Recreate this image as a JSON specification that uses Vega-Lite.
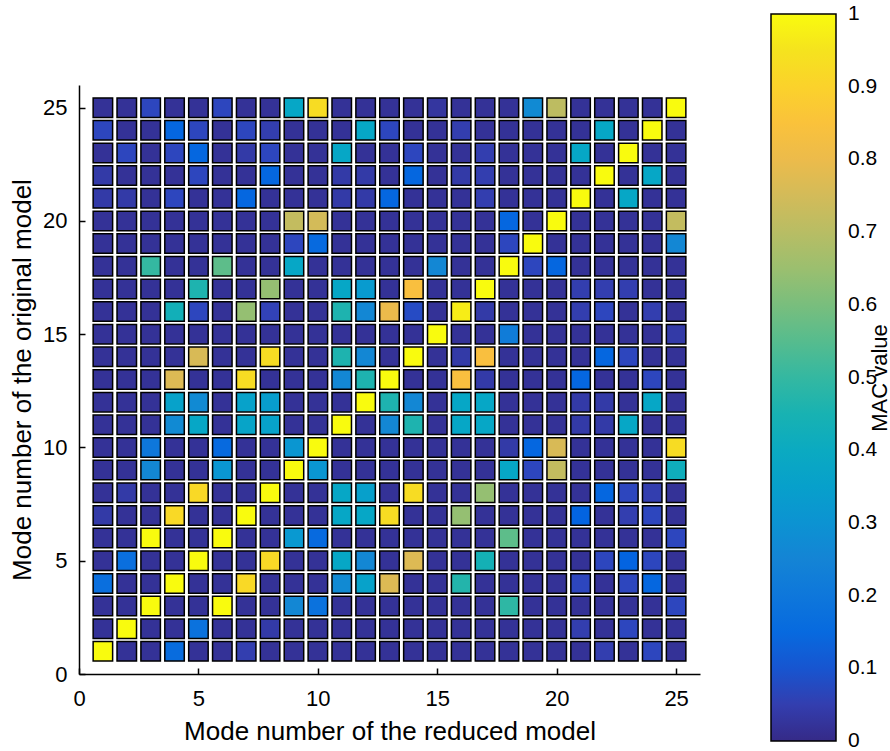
{
 "$schema": "https://vega.github.io/schema/vega-lite/v6.json",
 "width": 621, "height": 589,
 "autosize": {"type": "none"},
 "padding": {"left": 79, "top": 85, "right": 190, "bottom": 77},
 "background": "white",
 "config": {"view": {"stroke": null}, "font": "Liberation Sans"},
 "datasets": {"mac": [
{"x":1,"y":25,"v":0.02},{"x":2,"y":25,"v":0.02},{"x":3,"y":25,"v":0.07},{"x":4,"y":25,"v":0.02},{"x":5,"y":25,"v":0.02},{"x":6,"y":25,"v":0.07},{"x":7,"y":25,"v":0.02},{"x":8,"y":25,"v":0.02},{"x":9,"y":25,"v":0.38},{"x":10,"y":25,"v":0.93},{"x":11,"y":25,"v":0.02},{"x":12,"y":25,"v":0.02},{"x":13,"y":25,"v":0.02},{"x":14,"y":25,"v":0.02},{"x":15,"y":25,"v":0.03},{"x":16,"y":25,"v":0.02},{"x":17,"y":25,"v":0.02},{"x":18,"y":25,"v":0.02},{"x":19,"y":25,"v":0.27},{"x":20,"y":25,"v":0.71},{"x":21,"y":25,"v":0.02},{"x":22,"y":25,"v":0.02},{"x":23,"y":25,"v":0.02},{"x":24,"y":25,"v":0.02},{"x":25,"y":25,"v":1},
{"x":1,"y":24,"v":0.07},{"x":2,"y":24,"v":0.02},{"x":3,"y":24,"v":0.02},{"x":4,"y":24,"v":0.14},{"x":5,"y":24,"v":0.07},{"x":6,"y":24,"v":0.02},{"x":7,"y":24,"v":0.07},{"x":8,"y":24,"v":0.05},{"x":9,"y":24,"v":0.02},{"x":10,"y":24,"v":0.02},{"x":11,"y":24,"v":0.02},{"x":12,"y":24,"v":0.38},{"x":13,"y":24,"v":0.07},{"x":14,"y":24,"v":0.02},{"x":15,"y":24,"v":0.02},{"x":16,"y":24,"v":0.05},{"x":17,"y":24,"v":0.02},{"x":18,"y":24,"v":0.02},{"x":19,"y":24,"v":0.02},{"x":20,"y":24,"v":0.02},{"x":21,"y":24,"v":0.02},{"x":22,"y":24,"v":0.38},{"x":23,"y":24,"v":0.02},{"x":24,"y":24,"v":1},{"x":25,"y":24,"v":0.02},
{"x":1,"y":23,"v":0.02},{"x":2,"y":23,"v":0.07},{"x":3,"y":23,"v":0.02},{"x":4,"y":23,"v":0.07},{"x":5,"y":23,"v":0.14},{"x":6,"y":23,"v":0.02},{"x":7,"y":23,"v":0.04},{"x":8,"y":23,"v":0.07},{"x":9,"y":23,"v":0.02},{"x":10,"y":23,"v":0.02},{"x":11,"y":23,"v":0.38},{"x":12,"y":23,"v":0.02},{"x":13,"y":23,"v":0.02},{"x":14,"y":23,"v":0.07},{"x":15,"y":23,"v":0.02},{"x":16,"y":23,"v":0.02},{"x":17,"y":23,"v":0.05},{"x":18,"y":23,"v":0.02},{"x":19,"y":23,"v":0.02},{"x":20,"y":23,"v":0.02},{"x":21,"y":23,"v":0.38},{"x":22,"y":23,"v":0.02},{"x":23,"y":23,"v":1},{"x":24,"y":23,"v":0.02},{"x":25,"y":23,"v":0.02},
{"x":1,"y":22,"v":0.04},{"x":2,"y":22,"v":0.02},{"x":3,"y":22,"v":0.02},{"x":4,"y":22,"v":0.02},{"x":5,"y":22,"v":0.07},{"x":6,"y":22,"v":0.02},{"x":7,"y":22,"v":0.02},{"x":8,"y":22,"v":0.14},{"x":9,"y":22,"v":0.02},{"x":10,"y":22,"v":0.02},{"x":11,"y":22,"v":0.04},{"x":12,"y":22,"v":0.04},{"x":13,"y":22,"v":0.02},{"x":14,"y":22,"v":0.14},{"x":15,"y":22,"v":0.02},{"x":16,"y":22,"v":0.04},{"x":17,"y":22,"v":0.05},{"x":18,"y":22,"v":0.02},{"x":19,"y":22,"v":0.02},{"x":20,"y":22,"v":0.02},{"x":21,"y":22,"v":0.02},{"x":22,"y":22,"v":1},{"x":23,"y":22,"v":0.02},{"x":24,"y":22,"v":0.38},{"x":25,"y":22,"v":0.02},
{"x":1,"y":21,"v":0.04},{"x":2,"y":21,"v":0.04},{"x":3,"y":21,"v":0.02},{"x":4,"y":21,"v":0.07},{"x":5,"y":21,"v":0.02},{"x":6,"y":21,"v":0.02},{"x":7,"y":21,"v":0.14},{"x":8,"y":21,"v":0.02},{"x":9,"y":21,"v":0.02},{"x":10,"y":21,"v":0.02},{"x":11,"y":21,"v":0.04},{"x":12,"y":21,"v":0.04},{"x":13,"y":21,"v":0.14},{"x":14,"y":21,"v":0.02},{"x":15,"y":21,"v":0.02},{"x":16,"y":21,"v":0.02},{"x":17,"y":21,"v":0.05},{"x":18,"y":21,"v":0.02},{"x":19,"y":21,"v":0.02},{"x":20,"y":21,"v":0.02},{"x":21,"y":21,"v":1},{"x":22,"y":21,"v":0.02},{"x":23,"y":21,"v":0.38},{"x":24,"y":21,"v":0.02},{"x":25,"y":21,"v":0.02},
{"x":1,"y":20,"v":0.02},{"x":2,"y":20,"v":0.02},{"x":3,"y":20,"v":0.02},{"x":4,"y":20,"v":0.02},{"x":5,"y":20,"v":0.02},{"x":6,"y":20,"v":0.02},{"x":7,"y":20,"v":0.02},{"x":8,"y":20,"v":0.02},{"x":9,"y":20,"v":0.72},{"x":10,"y":20,"v":0.75},{"x":11,"y":20,"v":0.02},{"x":12,"y":20,"v":0.02},{"x":13,"y":20,"v":0.02},{"x":14,"y":20,"v":0.02},{"x":15,"y":20,"v":0.02},{"x":16,"y":20,"v":0.02},{"x":17,"y":20,"v":0.02},{"x":18,"y":20,"v":0.14},{"x":19,"y":20,"v":0.02},{"x":20,"y":20,"v":1},{"x":21,"y":20,"v":0.02},{"x":22,"y":20,"v":0.02},{"x":23,"y":20,"v":0.02},{"x":24,"y":20,"v":0.02},{"x":25,"y":20,"v":0.72},
{"x":1,"y":19,"v":0.02},{"x":2,"y":19,"v":0.02},{"x":3,"y":19,"v":0.02},{"x":4,"y":19,"v":0.02},{"x":5,"y":19,"v":0.02},{"x":6,"y":19,"v":0.02},{"x":7,"y":19,"v":0.02},{"x":8,"y":19,"v":0.02},{"x":9,"y":19,"v":0.07},{"x":10,"y":19,"v":0.15},{"x":11,"y":19,"v":0.02},{"x":12,"y":19,"v":0.02},{"x":13,"y":19,"v":0.02},{"x":14,"y":19,"v":0.02},{"x":15,"y":19,"v":0.02},{"x":16,"y":19,"v":0.02},{"x":17,"y":19,"v":0.02},{"x":18,"y":19,"v":0.07},{"x":19,"y":19,"v":1},{"x":20,"y":19,"v":0.02},{"x":21,"y":19,"v":0.02},{"x":22,"y":19,"v":0.02},{"x":23,"y":19,"v":0.02},{"x":24,"y":19,"v":0.02},{"x":25,"y":19,"v":0.26},
{"x":1,"y":18,"v":0.02},{"x":2,"y":18,"v":0.02},{"x":3,"y":18,"v":0.5},{"x":4,"y":18,"v":0.02},{"x":5,"y":18,"v":0.02},{"x":6,"y":18,"v":0.56},{"x":7,"y":18,"v":0.02},{"x":8,"y":18,"v":0.02},{"x":9,"y":18,"v":0.38},{"x":10,"y":18,"v":0.02},{"x":11,"y":18,"v":0.02},{"x":12,"y":18,"v":0.02},{"x":13,"y":18,"v":0.02},{"x":14,"y":18,"v":0.02},{"x":15,"y":18,"v":0.26},{"x":16,"y":18,"v":0.02},{"x":17,"y":18,"v":0.02},{"x":18,"y":18,"v":1},{"x":19,"y":18,"v":0.07},{"x":20,"y":18,"v":0.14},{"x":21,"y":18,"v":0.02},{"x":22,"y":18,"v":0.02},{"x":23,"y":18,"v":0.02},{"x":24,"y":18,"v":0.02},{"x":25,"y":18,"v":0.02},
{"x":1,"y":17,"v":0.02},{"x":2,"y":17,"v":0.02},{"x":3,"y":17,"v":0.02},{"x":4,"y":17,"v":0.02},{"x":5,"y":17,"v":0.46},{"x":6,"y":17,"v":0.02},{"x":7,"y":17,"v":0.02},{"x":8,"y":17,"v":0.64},{"x":9,"y":17,"v":0.02},{"x":10,"y":17,"v":0.02},{"x":11,"y":17,"v":0.38},{"x":12,"y":17,"v":0.33},{"x":13,"y":17,"v":0.02},{"x":14,"y":17,"v":0.84},{"x":15,"y":17,"v":0.02},{"x":16,"y":17,"v":0.02},{"x":17,"y":17,"v":1},{"x":18,"y":17,"v":0.02},{"x":19,"y":17,"v":0.02},{"x":20,"y":17,"v":0.02},{"x":21,"y":17,"v":0.05},{"x":22,"y":17,"v":0.05},{"x":23,"y":17,"v":0.05},{"x":24,"y":17,"v":0.02},{"x":25,"y":17,"v":0.02},
{"x":1,"y":16,"v":0.02},{"x":2,"y":16,"v":0.02},{"x":3,"y":16,"v":0.02},{"x":4,"y":16,"v":0.43},{"x":5,"y":16,"v":0.07},{"x":6,"y":16,"v":0.02},{"x":7,"y":16,"v":0.64},{"x":8,"y":16,"v":0.06},{"x":9,"y":16,"v":0.02},{"x":10,"y":16,"v":0.02},{"x":11,"y":16,"v":0.46},{"x":12,"y":16,"v":0.26},{"x":13,"y":16,"v":0.8},{"x":14,"y":16,"v":0.08},{"x":15,"y":16,"v":0.02},{"x":16,"y":16,"v":0.97},{"x":17,"y":16,"v":0.04},{"x":18,"y":16,"v":0.02},{"x":19,"y":16,"v":0.02},{"x":20,"y":16,"v":0.02},{"x":21,"y":16,"v":0.05},{"x":22,"y":16,"v":0.07},{"x":23,"y":16,"v":0.02},{"x":24,"y":16,"v":0.05},{"x":25,"y":16,"v":0.02},
{"x":1,"y":15,"v":0.02},{"x":2,"y":15,"v":0.02},{"x":3,"y":15,"v":0.02},{"x":4,"y":15,"v":0.02},{"x":5,"y":15,"v":0.02},{"x":6,"y":15,"v":0.02},{"x":7,"y":15,"v":0.02},{"x":8,"y":15,"v":0.02},{"x":9,"y":15,"v":0.02},{"x":10,"y":15,"v":0.02},{"x":11,"y":15,"v":0.02},{"x":12,"y":15,"v":0.02},{"x":13,"y":15,"v":0.02},{"x":14,"y":15,"v":0.02},{"x":15,"y":15,"v":1},{"x":16,"y":15,"v":0.02},{"x":17,"y":15,"v":0.02},{"x":18,"y":15,"v":0.22},{"x":19,"y":15,"v":0.02},{"x":20,"y":15,"v":0.02},{"x":21,"y":15,"v":0.02},{"x":22,"y":15,"v":0.02},{"x":23,"y":15,"v":0.02},{"x":24,"y":15,"v":0.02},{"x":25,"y":15,"v":0.04},
{"x":1,"y":14,"v":0.02},{"x":2,"y":14,"v":0.02},{"x":3,"y":14,"v":0.02},{"x":4,"y":14,"v":0.02},{"x":5,"y":14,"v":0.76},{"x":6,"y":14,"v":0.02},{"x":7,"y":14,"v":0.02},{"x":8,"y":14,"v":0.93},{"x":9,"y":14,"v":0.02},{"x":10,"y":14,"v":0.02},{"x":11,"y":14,"v":0.46},{"x":12,"y":14,"v":0.26},{"x":13,"y":14,"v":0.02},{"x":14,"y":14,"v":1},{"x":15,"y":14,"v":0.02},{"x":16,"y":14,"v":0.04},{"x":17,"y":14,"v":0.84},{"x":18,"y":14,"v":0.02},{"x":19,"y":14,"v":0.02},{"x":20,"y":14,"v":0.02},{"x":21,"y":14,"v":0.02},{"x":22,"y":14,"v":0.14},{"x":23,"y":14,"v":0.07},{"x":24,"y":14,"v":0.02},{"x":25,"y":14,"v":0.02},
{"x":1,"y":13,"v":0.02},{"x":2,"y":13,"v":0.02},{"x":3,"y":13,"v":0.02},{"x":4,"y":13,"v":0.77},{"x":5,"y":13,"v":0.02},{"x":6,"y":13,"v":0.02},{"x":7,"y":13,"v":0.93},{"x":8,"y":13,"v":0.02},{"x":9,"y":13,"v":0.02},{"x":10,"y":13,"v":0.02},{"x":11,"y":13,"v":0.26},{"x":12,"y":13,"v":0.46},{"x":13,"y":13,"v":1},{"x":14,"y":13,"v":0.02},{"x":15,"y":13,"v":0.02},{"x":16,"y":13,"v":0.84},{"x":17,"y":13,"v":0.04},{"x":18,"y":13,"v":0.02},{"x":19,"y":13,"v":0.02},{"x":20,"y":13,"v":0.02},{"x":21,"y":13,"v":0.14},{"x":22,"y":13,"v":0.02},{"x":23,"y":13,"v":0.02},{"x":24,"y":13,"v":0.07},{"x":25,"y":13,"v":0.02},
{"x":1,"y":12,"v":0.02},{"x":2,"y":12,"v":0.02},{"x":3,"y":12,"v":0.02},{"x":4,"y":12,"v":0.36},{"x":5,"y":12,"v":0.27},{"x":6,"y":12,"v":0.02},{"x":7,"y":12,"v":0.36},{"x":8,"y":12,"v":0.34},{"x":9,"y":12,"v":0.02},{"x":10,"y":12,"v":0.02},{"x":11,"y":12,"v":0.02},{"x":12,"y":12,"v":1},{"x":13,"y":12,"v":0.46},{"x":14,"y":12,"v":0.26},{"x":15,"y":12,"v":0.02},{"x":16,"y":12,"v":0.38},{"x":17,"y":12,"v":0.38},{"x":18,"y":12,"v":0.02},{"x":19,"y":12,"v":0.02},{"x":20,"y":12,"v":0.02},{"x":21,"y":12,"v":0.04},{"x":22,"y":12,"v":0.04},{"x":23,"y":12,"v":0.02},{"x":24,"y":12,"v":0.38},{"x":25,"y":12,"v":0.02},
{"x":1,"y":11,"v":0.02},{"x":2,"y":11,"v":0.02},{"x":3,"y":11,"v":0.02},{"x":4,"y":11,"v":0.27},{"x":5,"y":11,"v":0.38},{"x":6,"y":11,"v":0.02},{"x":7,"y":11,"v":0.37},{"x":8,"y":11,"v":0.36},{"x":9,"y":11,"v":0.02},{"x":10,"y":11,"v":0.02},{"x":11,"y":11,"v":1},{"x":12,"y":11,"v":0.02},{"x":13,"y":11,"v":0.26},{"x":14,"y":11,"v":0.46},{"x":15,"y":11,"v":0.02},{"x":16,"y":11,"v":0.38},{"x":17,"y":11,"v":0.38},{"x":18,"y":11,"v":0.02},{"x":19,"y":11,"v":0.02},{"x":20,"y":11,"v":0.02},{"x":21,"y":11,"v":0.04},{"x":22,"y":11,"v":0.04},{"x":23,"y":11,"v":0.38},{"x":24,"y":11,"v":0.02},{"x":25,"y":11,"v":0.02},
{"x":1,"y":10,"v":0.02},{"x":2,"y":10,"v":0.02},{"x":3,"y":10,"v":0.2},{"x":4,"y":10,"v":0.02},{"x":5,"y":10,"v":0.02},{"x":6,"y":10,"v":0.15},{"x":7,"y":10,"v":0.02},{"x":8,"y":10,"v":0.02},{"x":9,"y":10,"v":0.31},{"x":10,"y":10,"v":1},{"x":11,"y":10,"v":0.02},{"x":12,"y":10,"v":0.02},{"x":13,"y":10,"v":0.02},{"x":14,"y":10,"v":0.02},{"x":15,"y":10,"v":0.02},{"x":16,"y":10,"v":0.02},{"x":17,"y":10,"v":0.02},{"x":18,"y":10,"v":0.04},{"x":19,"y":10,"v":0.14},{"x":20,"y":10,"v":0.76},{"x":21,"y":10,"v":0.02},{"x":22,"y":10,"v":0.02},{"x":23,"y":10,"v":0.02},{"x":24,"y":10,"v":0.02},{"x":25,"y":10,"v":0.93},
{"x":1,"y":9,"v":0.02},{"x":2,"y":9,"v":0.02},{"x":3,"y":9,"v":0.26},{"x":4,"y":9,"v":0.02},{"x":5,"y":9,"v":0.02},{"x":6,"y":9,"v":0.31},{"x":7,"y":9,"v":0.02},{"x":8,"y":9,"v":0.02},{"x":9,"y":9,"v":1},{"x":10,"y":9,"v":0.31},{"x":11,"y":9,"v":0.02},{"x":12,"y":9,"v":0.02},{"x":13,"y":9,"v":0.02},{"x":14,"y":9,"v":0.02},{"x":15,"y":9,"v":0.02},{"x":16,"y":9,"v":0.02},{"x":17,"y":9,"v":0.02},{"x":18,"y":9,"v":0.38},{"x":19,"y":9,"v":0.07},{"x":20,"y":9,"v":0.72},{"x":21,"y":9,"v":0.02},{"x":22,"y":9,"v":0.02},{"x":23,"y":9,"v":0.02},{"x":24,"y":9,"v":0.02},{"x":25,"y":9,"v":0.42},
{"x":1,"y":8,"v":0.02},{"x":2,"y":8,"v":0.04},{"x":3,"y":8,"v":0.02},{"x":4,"y":8,"v":0.02},{"x":5,"y":8,"v":0.92},{"x":6,"y":8,"v":0.02},{"x":7,"y":8,"v":0.02},{"x":8,"y":8,"v":1},{"x":9,"y":8,"v":0.02},{"x":10,"y":8,"v":0.02},{"x":11,"y":8,"v":0.38},{"x":12,"y":8,"v":0.35},{"x":13,"y":8,"v":0.02},{"x":14,"y":8,"v":0.93},{"x":15,"y":8,"v":0.02},{"x":16,"y":8,"v":0.02},{"x":17,"y":8,"v":0.64},{"x":18,"y":8,"v":0.02},{"x":19,"y":8,"v":0.02},{"x":20,"y":8,"v":0.02},{"x":21,"y":8,"v":0.02},{"x":22,"y":8,"v":0.14},{"x":23,"y":8,"v":0.07},{"x":24,"y":8,"v":0.05},{"x":25,"y":8,"v":0.02},
{"x":1,"y":7,"v":0.04},{"x":2,"y":7,"v":0.02},{"x":3,"y":7,"v":0.02},{"x":4,"y":7,"v":0.92},{"x":5,"y":7,"v":0.02},{"x":6,"y":7,"v":0.02},{"x":7,"y":7,"v":1},{"x":8,"y":7,"v":0.02},{"x":9,"y":7,"v":0.02},{"x":10,"y":7,"v":0.02},{"x":11,"y":7,"v":0.38},{"x":12,"y":7,"v":0.38},{"x":13,"y":7,"v":0.93},{"x":14,"y":7,"v":0.02},{"x":15,"y":7,"v":0.02},{"x":16,"y":7,"v":0.64},{"x":17,"y":7,"v":0.02},{"x":18,"y":7,"v":0.02},{"x":19,"y":7,"v":0.02},{"x":20,"y":7,"v":0.02},{"x":21,"y":7,"v":0.13},{"x":22,"y":7,"v":0.02},{"x":23,"y":7,"v":0.05},{"x":24,"y":7,"v":0.07},{"x":25,"y":7,"v":0.02},
{"x":1,"y":6,"v":0.02},{"x":2,"y":6,"v":0.02},{"x":3,"y":6,"v":1},{"x":4,"y":6,"v":0.02},{"x":5,"y":6,"v":0.02},{"x":6,"y":6,"v":1},{"x":7,"y":6,"v":0.02},{"x":8,"y":6,"v":0.02},{"x":9,"y":6,"v":0.32},{"x":10,"y":6,"v":0.15},{"x":11,"y":6,"v":0.02},{"x":12,"y":6,"v":0.02},{"x":13,"y":6,"v":0.02},{"x":14,"y":6,"v":0.02},{"x":15,"y":6,"v":0.02},{"x":16,"y":6,"v":0.02},{"x":17,"y":6,"v":0.02},{"x":18,"y":6,"v":0.56},{"x":19,"y":6,"v":0.02},{"x":20,"y":6,"v":0.02},{"x":21,"y":6,"v":0.02},{"x":22,"y":6,"v":0.02},{"x":23,"y":6,"v":0.02},{"x":24,"y":6,"v":0.02},{"x":25,"y":6,"v":0.07},
{"x":1,"y":5,"v":0.02},{"x":2,"y":5,"v":0.17},{"x":3,"y":5,"v":0.02},{"x":4,"y":5,"v":0.02},{"x":5,"y":5,"v":1},{"x":6,"y":5,"v":0.02},{"x":7,"y":5,"v":0.02},{"x":8,"y":5,"v":0.92},{"x":9,"y":5,"v":0.02},{"x":10,"y":5,"v":0.02},{"x":11,"y":5,"v":0.38},{"x":12,"y":5,"v":0.26},{"x":13,"y":5,"v":0.02},{"x":14,"y":5,"v":0.77},{"x":15,"y":5,"v":0.02},{"x":16,"y":5,"v":0.02},{"x":17,"y":5,"v":0.44},{"x":18,"y":5,"v":0.02},{"x":19,"y":5,"v":0.02},{"x":20,"y":5,"v":0.02},{"x":21,"y":5,"v":0.02},{"x":22,"y":5,"v":0.07},{"x":23,"y":5,"v":0.13},{"x":24,"y":5,"v":0.07},{"x":25,"y":5,"v":0.02},
{"x":1,"y":4,"v":0.17},{"x":2,"y":4,"v":0.02},{"x":3,"y":4,"v":0.02},{"x":4,"y":4,"v":1},{"x":5,"y":4,"v":0.02},{"x":6,"y":4,"v":0.02},{"x":7,"y":4,"v":0.92},{"x":8,"y":4,"v":0.02},{"x":9,"y":4,"v":0.02},{"x":10,"y":4,"v":0.02},{"x":11,"y":4,"v":0.27},{"x":12,"y":4,"v":0.36},{"x":13,"y":4,"v":0.77},{"x":14,"y":4,"v":0.02},{"x":15,"y":4,"v":0.02},{"x":16,"y":4,"v":0.47},{"x":17,"y":4,"v":0.02},{"x":18,"y":4,"v":0.02},{"x":19,"y":4,"v":0.02},{"x":20,"y":4,"v":0.02},{"x":21,"y":4,"v":0.07},{"x":22,"y":4,"v":0.02},{"x":23,"y":4,"v":0.07},{"x":24,"y":4,"v":0.14},{"x":25,"y":4,"v":0.02},
{"x":1,"y":3,"v":0.02},{"x":2,"y":3,"v":0.02},{"x":3,"y":3,"v":1},{"x":4,"y":3,"v":0.02},{"x":5,"y":3,"v":0.02},{"x":6,"y":3,"v":1},{"x":7,"y":3,"v":0.02},{"x":8,"y":3,"v":0.02},{"x":9,"y":3,"v":0.26},{"x":10,"y":3,"v":0.18},{"x":11,"y":3,"v":0.02},{"x":12,"y":3,"v":0.02},{"x":13,"y":3,"v":0.02},{"x":14,"y":3,"v":0.02},{"x":15,"y":3,"v":0.02},{"x":16,"y":3,"v":0.02},{"x":17,"y":3,"v":0.02},{"x":18,"y":3,"v":0.49},{"x":19,"y":3,"v":0.02},{"x":20,"y":3,"v":0.02},{"x":21,"y":3,"v":0.02},{"x":22,"y":3,"v":0.02},{"x":23,"y":3,"v":0.02},{"x":24,"y":3,"v":0.02},{"x":25,"y":3,"v":0.07},
{"x":1,"y":2,"v":0.02},{"x":2,"y":2,"v":1},{"x":3,"y":2,"v":0.02},{"x":4,"y":2,"v":0.02},{"x":5,"y":2,"v":0.18},{"x":6,"y":2,"v":0.02},{"x":7,"y":2,"v":0.02},{"x":8,"y":2,"v":0.04},{"x":9,"y":2,"v":0.02},{"x":10,"y":2,"v":0.02},{"x":11,"y":2,"v":0.02},{"x":12,"y":2,"v":0.02},{"x":13,"y":2,"v":0.02},{"x":14,"y":2,"v":0.02},{"x":15,"y":2,"v":0.02},{"x":16,"y":2,"v":0.02},{"x":17,"y":2,"v":0.02},{"x":18,"y":2,"v":0.02},{"x":19,"y":2,"v":0.02},{"x":20,"y":2,"v":0.02},{"x":21,"y":2,"v":0.05},{"x":22,"y":2,"v":0.02},{"x":23,"y":2,"v":0.07},{"x":24,"y":2,"v":0.02},{"x":25,"y":2,"v":0.02},
{"x":1,"y":1,"v":1},{"x":2,"y":1,"v":0.02},{"x":3,"y":1,"v":0.02},{"x":4,"y":1,"v":0.16},{"x":5,"y":1,"v":0.02},{"x":6,"y":1,"v":0.02},{"x":7,"y":1,"v":0.05},{"x":8,"y":1,"v":0.02},{"x":9,"y":1,"v":0.02},{"x":10,"y":1,"v":0.02},{"x":11,"y":1,"v":0.02},{"x":12,"y":1,"v":0.02},{"x":13,"y":1,"v":0.02},{"x":14,"y":1,"v":0.02},{"x":15,"y":1,"v":0.02},{"x":16,"y":1,"v":0.02},{"x":17,"y":1,"v":0.02},{"x":18,"y":1,"v":0.02},{"x":19,"y":1,"v":0.02},{"x":20,"y":1,"v":0.02},{"x":21,"y":1,"v":0.02},{"x":22,"y":1,"v":0.05},{"x":23,"y":1,"v":0.02},{"x":24,"y":1,"v":0.07},{"x":25,"y":1,"v":0.02}
 ]},
 "data": {"name": "mac"},
 "mark": {"type": "square", "size": 380, "stroke": "black", "strokeWidth": 1.5, "opacity": 1},
 "encoding": {
  "x": {"field": "x", "type": "quantitative",
        "scale": {"domain": [0, 26], "nice": false, "zero": false},
        "axis": {"values": [0, 5, 10, 15, 20, 25], "title": "Mode number of the reduced model", "grid": false,
                 "labelFontSize": 22, "titleFontSize": 26, "titleFontWeight": "normal", "labelColor": "black", "titleColor": "black",
                 "domainColor": "black", "tickColor": "black", "domainWidth": 1.5, "tickWidth": 1.5, "tickSize": -6,
                 "labelPadding": 20, "titlePadding": 9, "labelFlush": false}},
  "y": {"field": "y", "type": "quantitative",
        "scale": {"domain": [0, 26], "nice": false, "zero": false},
        "axis": {"values": [0, 5, 10, 15, 20, 25], "title": "Mode number of the original model", "grid": false,
                 "labelFontSize": 22, "titleFontSize": 26, "titleFontWeight": "normal", "labelColor": "black", "titleColor": "black",
                 "domainColor": "black", "tickColor": "black", "domainWidth": 1.5, "tickWidth": 1.5, "tickSize": -6,
                 "labelPadding": 18, "titlePadding": 7, "labelFlush": false}},
  "color": {"field": "v", "type": "quantitative",
            "scale": {"domain": [0, 0.0635, 0.127, 0.1905, 0.254, 0.3175, 0.381, 0.444, 0.508, 0.571, 0.635, 0.698, 0.762, 0.825, 0.889, 0.952, 1],
                      "range": ["#352a87", "#3243ba", "#0363e1", "#0d75dc", "#1485d4", "#0998d1", "#06a7c6", "#15b1b4", "#38b99e", "#65be86", "#92bf73", "#b7bd64", "#d9ba56", "#f8bb44", "#fcce2e", "#f5e41d", "#f9fb0e"],
                      "interpolate": "rgb"},
            "legend": {"orient": "none", "legendX": 790, "legendY": -71, "direction": "vertical",
                       "gradientLength": 727, "gradientThickness": 65, "gradientStrokeColor": "black", "gradientStrokeWidth": 1.5,
                       "values": [0.0001, 0.1, 0.2, 0.3, 0.4, 0.5, 0.6, 0.7, 0.8, 0.9, 0.9999], "format": ".1~f",
                       "labelFontSize": 21, "labelColor": "black", "labelOffset": 12, "labelOverlap": false,
                       "title": "MAC value", "titleOrient": "left", "titleFontSize": 22, "titleFontWeight": "normal", "titleColor": "black",
                       "titleAnchor": "middle", "titlePadding": -122, "padding": 0}}
 }
}
